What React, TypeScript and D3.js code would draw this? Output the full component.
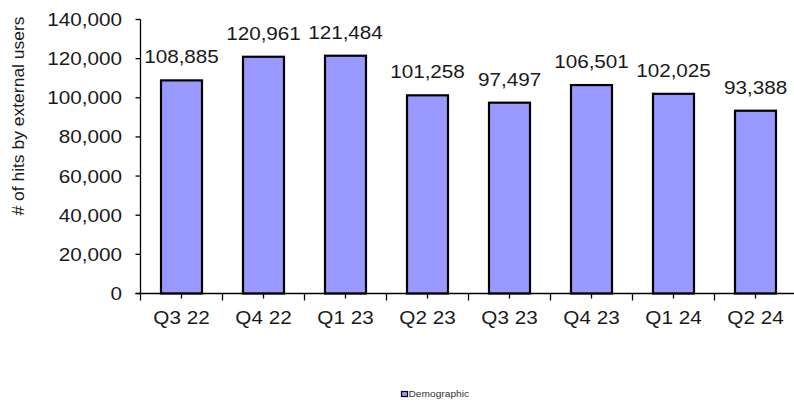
import { useEffect, useRef } from 'react';
import * as d3 from 'd3';

const quarters = ['Q3 22', 'Q4 22', 'Q1 23', 'Q2 23', 'Q3 23', 'Q4 23', 'Q1 24', 'Q2 24'];
const hits = [108885, 120961, 121484, 101258, 97497, 106501, 102025, 93388];
const yTicks = [0, 20000, 40000, 60000, 80000, 100000, 120000, 140000];
const seriesName = 'Demographic';

const W = 794;
const H = 402;
const FONT = '"Liberation Sans", Arial, sans-serif';
const STRETCH = 1.15; // the picture's text is a bit wider than plain Arial

export default function App() {
  const ref = useRef<SVGSVGElement>(null);

  useEffect(() => {
    if (!ref.current) return;
    const svg = d3.select(ref.current);
    svg.selectAll('*').remove();

    const left = 140.5;
    const bottom = 293.5;
    const step = 82;

    const y = d3.scaleLinear().domain([0, 140000]).range([bottom, 19.5]);
    const x = d3
      .scaleBand<string>()
      .domain(quarters)
      .range([left, left + step * quarters.length]);
    const fmt = d3.format(',');

    // stretched text helper
    const label = (
      g: d3.Selection<SVGGElement, unknown, null, undefined>,
      tx: number,
      ty: number,
      text: string,
      anchor: string,
      size = 18,
      sx = STRETCH
    ) =>
      g
        .append('text')
        .attr('transform', `translate(${tx},${ty}) scale(${sx},1)`)
        .attr('text-anchor', anchor)
        .attr('font-family', FONT)
        .attr('font-size', size)
        .attr('fill', '#1a1a1a')
        .text(text);

    const root = svg.append('g');

    // bars
    const barW = x.bandwidth() * 0.5;
    root
      .append('g')
      .selectAll('rect')
      .data(hits)
      .join('rect')
      .attr('x', (_, i) => (x(quarters[i]) as number) + (x.bandwidth() - barW) / 2)
      .attr('y', d => y(d))
      .attr('width', barW)
      .attr('height', d => bottom - y(d))
      .attr('fill', '#9999ff')
      .attr('stroke', '#000')
      .attr('stroke-width', 2.2);

    // value labels
    const vals = root.append('g');
    hits.forEach((d, i) => {
      label(vals, (x(quarters[i]) as number) + x.bandwidth() / 2, y(d) - 17, fmt(d), 'middle');
    });

    // y axis
    const axis = root.append('g').attr('stroke', '#000').attr('stroke-width', 1.3);
    axis.append('line').attr('x1', left).attr('x2', left).attr('y1', y(140000)).attr('y2', bottom);
    axis
      .selectAll('line.yt')
      .data(yTicks)
      .join('line')
      .attr('class', 'yt')
      .attr('x1', left - 5)
      .attr('x2', left)
      .attr('y1', d => y(d))
      .attr('y2', d => y(d));

    const yLabels = root.append('g');
    yTicks.forEach(t => label(yLabels, 122, y(t) + 6.5, fmt(t), 'end'));

    // x axis
    axis.append('line').attr('x1', left - 5).attr('x2', left + step * quarters.length).attr('y1', bottom).attr('y2', bottom);
    const bounds = d3.range(quarters.length + 1).map(i => left + i * step);
    axis
      .selectAll('line.xb')
      .data(bounds)
      .join('line')
      .attr('class', 'xb')
      .attr('x1', d => d)
      .attr('x2', d => d)
      .attr('y1', bottom)
      .attr('y2', bottom + 7);
    axis
      .selectAll('line.xc')
      .data(quarters)
      .join('line')
      .attr('class', 'xc')
      .attr('x1', d => (x(d) as number) + x.bandwidth() / 2)
      .attr('x2', d => (x(d) as number) + x.bandwidth() / 2)
      .attr('y1', bottom)
      .attr('y2', bottom + 5);

    const xLabels = root.append('g');
    quarters.forEach(q => label(xLabels, (x(q) as number) + x.bandwidth() / 2, 324, q, 'middle'));

    // y title
    root
      .append('text')
      .attr('transform', 'translate(23.5,116) rotate(-90) scale(1,0.92)')
      .attr('text-anchor', 'middle')
      .attr('font-family', FONT)
      .attr('font-size', 17.5)
      .attr('fill', '#1a1a1a')
      .text('# of hits by external users');

    // legend
    const lg = root.append('g');
    lg.append('rect')
      .attr('x', 401.5)
      .attr('y', 391.5)
      .attr('width', 6)
      .attr('height', 5)
      .attr('fill', '#9999ff')
      .attr('stroke', '#000')
      .attr('stroke-width', 1.2);
    label(lg, 408.5, 397, seriesName, 'start', 8.5, 1.2).attr('fill', '#333');
  }, []);

  return (
    <svg
      ref={ref}
      width={W}
      height={H}
      style={{ position: 'absolute', left: 0, top: 0, background: '#fff' }}
    />
  );
}
